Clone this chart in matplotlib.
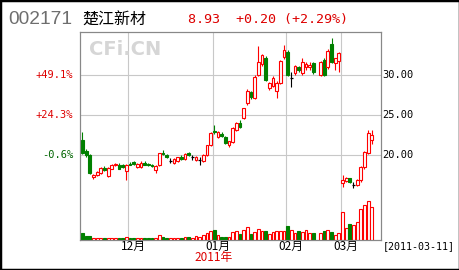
import matplotlib
matplotlib.use("Agg")
import matplotlib.pyplot as plt
import numpy as np
import pandas as pd
from matplotlib.patches import Rectangle

CJK = ['Noto Sans CJK SC', 'DejaVu Sans']
MONO = 'DejaVu Sans Mono'
RED = '#ff0000'
GREEN = '#008000'
TXT_RED = '#dd0000'

# trading days, exchange holidays removed
holidays = pd.to_datetime(['2011-01-03', '2011-02-02', '2011-02-03',
                           '2011-02-04', '2011-02-07', '2011-02-08'])
days = pd.bdate_range('2010-11-12', '2011-03-11')
days = days[~days.isin(holidays)]

nan = np.nan
opens = [21.9, 20.5, 20.0, 17.3, 17.5, 17.8, 18.4, 17.4, 18.3, 18.75, 18.8, 18.7, 18.0,
         18.9, 19.1, 18.55, 18.5, 19.0, 18.9, 18.8, 18.1, 18.7, 20.3, 20.0, 19.3, 19.0,
         19.2, 19.8, 19.5, 20.2, 19.7, 19.4, 19.35, 19.2, 20.0, 21.2,
         23.0, 22.2, 22.6, 22.2, 21.3, 21.6, 23.1, 24.0, 24.6, 26.4, 27.8, 27.1, 30.0,
         31.3, 32.1, 28.3, 28.6, 28.0, 29.0, 32.2,
         32.8, 29.6, 30.2, 30.9, 30.2, 30.9, 30.9, 31.4, nan, 30.0, 31.8, 30.9, 33.8,
         31.4, 31.7,
         16.55, 16.8, 17.1, 16.3, 16.3, 16.9, 18.5, 20.3, 21.9]
highs = [22.9, 20.7, 20.1, 17.65, 18.0, 18.5, 18.6, 18.5, 18.9, 19.0, 19.0, 18.9, 18.9,
         19.1, 19.2, 19.0, 19.2, 19.2, 19.0, 18.9, 18.8, 20.3, 20.6, 20.1, 19.6, 19.6,
         19.8, 20.0, 20.2, 20.4, 20.0, 19.9, 19.7, 20.1, 21.3, 22.8,
         23.7, 23.0, 22.8, 22.3, 21.8, 23.5, 24.1, 24.3, 25.9, 28.2, 28.0, 29.9, 33.6,
         32.6, 32.3, 29.1, 29.8, 29.2, 31.8, 33.7,
         33.1, 30.3, 31.2, 31.1, 32.0, 31.6, 31.5, 31.6, nan, 31.7, 32.0, 33.2, 34.5,
         32.1, 32.8,
         17.5, 17.3, 17.2, 16.6, 17.0, 18.6, 20.5, 23.1, 23.1]
lows = [20.1, 19.8, 17.6, 17.0, 17.35, 17.7, 18.0, 17.3, 18.2, 18.6, 18.2, 18.4, 16.9,
        18.7, 18.8, 18.4, 18.4, 18.7, 18.6, 18.5, 17.8, 18.6, 20.0, 19.6, 19.0, 18.9,
        19.1, 19.4, 19.4, 19.9, 19.4, 19.3, 18.8, 19.1, 19.9, 21.1,
        22.6, 22.1, 22.2, 21.4, 21.0, 21.5, 23.0, 23.4, 24.5, 26.2, 27.0, 26.9, 29.8,
        31.0, 29.2, 28.1, 28.5, 27.1, 28.8, 31.9,
        29.8, 28.45, 30.0, 30.3, 30.0, 30.6, 30.6, 30.1, nan, 29.8, 29.8, 30.7, 31.4,
        30.6, 30.3,
        16.0, 16.6, 16.5, 15.9, 16.1, 16.7, 18.2, 20.1, 21.4]
closes = [20.3, 19.95, 17.75, 17.55, 17.9, 18.4, 18.1, 18.35, 18.8, 18.9, 18.3, 18.5, 18.8,
          18.75, 18.9, 18.85, 19.0, 18.8, 18.7, 18.6, 18.6, 20.2, 20.1, 19.7, 19.3, 19.5,
          19.7, 19.5, 20.1, 20.0, 19.7, 19.8, 19.35, 20.0, 21.2, 22.7,
          22.8, 22.9, 22.3, 21.5, 21.7, 23.3, 24.0, 23.5, 25.8, 27.9, 27.2, 29.7, 31.6,
          32.4, 29.3, 28.9, 29.6, 29.0, 31.7, 33.0,
          30.0, 29.6, 31.1, 30.5, 31.5, 31.3, 31.2, 30.3, nan, 31.5, 30.0, 32.9, 31.6,
          32.0, 32.7,
          16.9, 17.1, 16.6, 16.3, 16.9, 18.5, 20.4, 22.7, 22.5]
# volume, 10k lots
volumes = [1.75, 1.12, 1.0, 0.5, 0.5, 0.62, 0.5, 0.5, 0.62, 0.5, 0.5, 0.5, 0.75,
           0.5, 0.5, 0.62, 0.5, 0.5, 0.5, 0.5, 0.62, 1.25, 0.75, 0.5, 0.5, 0.5, 0.62,
           0.5, 0.75, 0.75, 0.5, 1.0, 0.75, 1.25, 1.75, 2.25,
           2.5, 1.25, 0.75, 0.75, 0.75, 2.0, 2.25, 1.5, 2.5, 3.25, 1.5, 2.0, 2.75, 2.25,
           2.25, 1.5, 2.0, 2.25, 2.25, 2.25,
           3.5, 2.5, 1.75, 2.25, 2.0, 2.5, 1.75, 1.75, nan, 1.75, 2.25, 2.5, 2.0, 1.25, 1.75,
           7.0, 3.0, 4.0, 3.75, 4.5, 7.75, 8.75, 9.75, 8.25]
ref_close = 20.12
price_ticks = [20, 25, 30]
month_labels = ['12月', '01月', '02月', '03月']

o, h, l, c, v = map(np.array, (opens, highs, lows, closes, volumes))
x = np.arange(len(days))

fig = plt.figure(figsize=(4.6, 2.7), dpi=100)
ax = fig.add_axes([80.3 / 460, 30 / 270, 300.4 / 460, 208 / 270])
axv = ax.twinx()

ax.set_xlim(-0.6, 81.43)
ax.set_ylim(9.44, 35.28)
axv.set_ylim(0, 52)

# month separators
month_start = [i for i in range(1, len(days)) if days[i].month != days[i - 1].month]
for m in month_start:
    ax.axvline(m - 0.5, color='#c8c8c8', lw=0.8, zorder=0)
for p in price_ticks:
    ax.axhline(p, color='#c8c8c8', lw=0.8, zorder=0)

w = 0.75
for i in x:
    if np.isnan(c[i]):
        continue
    if c[i] > o[i]:
        col, face = RED, 'white'
    elif c[i] < o[i]:
        col, face = GREEN, GREEN
    else:
        col, face = 'black', 'black'
    ax.vlines(i, l[i], h[i], color=col, lw=0.8, zorder=2)
    if c[i] == o[i]:
        ax.hlines(o[i], i - w / 2, i + w / 2, color=col, lw=0.9, zorder=3)
    else:
        lo = min(o[i], c[i])
        ax.add_patch(Rectangle((i - w / 2, lo), w, abs(c[i] - o[i]),
                               facecolor=face, edgecolor=col, lw=0.8, zorder=3))
    # volume
    if c[i] >= o[i]:
        axv.bar(i, v[i], width=w, facecolor='white', edgecolor=RED, lw=0.8)
    else:
        axv.bar(i, v[i], width=w, facecolor=GREEN, edgecolor=GREEN, lw=0.8)

for a in (ax, axv):
    a.set_xticks([])
    a.set_yticks([])
    for s in a.spines.values():
        s.set_color('#888888')
        s.set_linewidth(0.8)
ax.patch.set_facecolor('white')

# price / percent labels
ytr = ax.get_yaxis_transform()
for p in price_ticks:
    ax.text(1.004, p, '%.2f' % p, transform=ytr, ha='left', va='center',
            fontsize=7.5, family=MONO, color='black')
    pct = (p / ref_close - 1) * 100
    ax.text(-0.024, p, '%+.1f%%' % pct, transform=ytr, ha='right', va='center',
            fontsize=7.5, family=MONO, color=TXT_RED if pct > 0 else '#006400')

# month labels
xtr = ax.get_xaxis_transform()
for m, lab in zip(month_start, month_labels):
    ax.annotate(lab, (m - 0.5, 0), xycoords=xtr, xytext=(3.6, -4.3),
                textcoords='offset points', ha='center', va='center',
                fontsize=8.5, family=CJK, color='black')
ax.annotate('2011年', (month_start[1] - 0.5, 0), xycoords=xtr, xytext=(0.8, -12.6),
            textcoords='offset points', ha='center', va='center',
            fontsize=8.5, family=CJK, color=TXT_RED)

fig.text(383 / 460, 1 - 246 / 270, '[2011-03-11]', ha='left', va='center',
         fontsize=7.2, family=MONO, color='black')

# header
fig.text(8 / 460, 1 - 20 / 270, '002171', ha='left', va='center',
         fontsize=13.8, family='Liberation Sans', color='#6e6e6e')
fig.text(82 / 460, 1 - 20 / 270, '楚江新材', ha='left', va='center',
         fontsize=11.5, family=CJK, color='black')
fig.text(188 / 460, 1 - 20 / 270, '8.93  +0.20 (+2.29%)', ha='left', va='center',
         fontsize=9.6, family=MONO, color=TXT_RED)

# watermark
fig.text(125 / 460, 1 - 49.5 / 270, 'CFi.CN', ha='center', va='center',
         fontsize=14, fontweight='bold', color='#d6d6d6')

fig.add_artist(Rectangle((0, 0), 1, 1, transform=fig.transFigure, fill=False,
                         edgecolor='black', lw=2.5))

fig.savefig('out.png', dpi=100)
